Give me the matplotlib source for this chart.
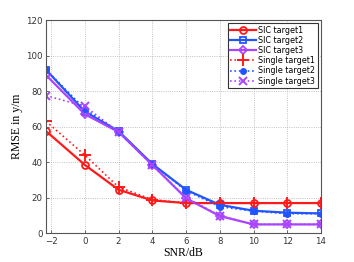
import matplotlib.pyplot as plt
import numpy as np

snr = [-2.3, 0, 2, 4, 6, 8, 10, 12, 14]

sic_t1 = [57.5, 38.5, 24.5, 18.5, 17, 17, 17, 17, 17]
sic_t2 = [92, 68.5, 57.5, 39, 24.5, 16, 12.7, 11.6, 11.2]
sic_t3 = [89, 67, 57, 38.5, 19.7, 9.7, 5, 5, 5]
single_t1 = [63, 44, 26, 19, 17, 17, 17, 17, 17]
single_t2 = [92, 70, 57, 39, 24, 15, 12.5, 11, 11]
single_t3 = [77.5, 71.5, 57, 38.5, 20, 10, 5, 5, 5]

red = '#ff1a1a'
blue = '#2255ff'
purple = '#aa44ff'

fig = plt.figure(figsize=(3.54, 2.62), dpi=100)
ax = fig.add_axes([46/354, 1 - 233.3/262, (321 - 46)/354, (233.3 - 20)/262])

ax.plot(snr, sic_t1, color=red, marker='o', ms=5, mfc='none', mew=1.3, lw=1.6, label='SIC target1')
ax.plot(snr, sic_t2, color=blue, marker='s', ms=5, mfc='none', mew=1.3, lw=1.6, label='SIC target2')
ax.plot(snr, sic_t3, color=purple, marker='D', ms=4, mfc='none', mew=1.3, lw=1.6, label='SIC target3')
ax.plot(snr, single_t1, color=red, marker='+', ms=8, mew=1.4, lw=1.2, ls=':', label='Single target1')
ax.plot(snr, single_t2, color=blue, marker='o', ms=4, mew=1.0, lw=1.2, ls=':', label='Single target2')
ax.plot(snr, single_t3, color=purple, marker='x', ms=6, mew=1.4, lw=1.2, ls=':', label='Single target3')

ax.set_xlim(-2.3, 14)
ax.set_ylim(0, 120)
ax.set_xticks([-2, 0, 2, 4, 6, 8, 10, 12, 14])
ax.set_yticks([0, 20, 40, 60, 80, 100, 120])
ax.set_xticklabels(['\u22122', '0', '2', '4', '6', '8', '10', '12', '14'])
ax.tick_params(labelsize=6.2, direction='in', length=2.5, width=0.5, colors='#333333', pad=2.5)
for s in ax.spines.values():
    s.set_color('#555555')
    s.set_linewidth(0.8)
ax.grid(True, ls=':', color='#b0b0b0', lw=0.6)

ax.set_xlabel('SNR/dB', family='Liberation Serif', fontsize=8.5, labelpad=1)
ax.set_ylabel('RMSE in y/m', family='Liberation Serif', fontsize=8.5, labelpad=2)

leg = ax.legend(loc='upper right', fontsize=5.8, handlelength=3.2, borderpad=0.3,
                labelspacing=0.15, handletextpad=0.3, fancybox=False, framealpha=1,
                borderaxespad=0.4)
leg.get_frame().set_edgecolor('#333333')
leg.get_frame().set_linewidth(0.8)

fig.savefig('out.png', dpi=100)
